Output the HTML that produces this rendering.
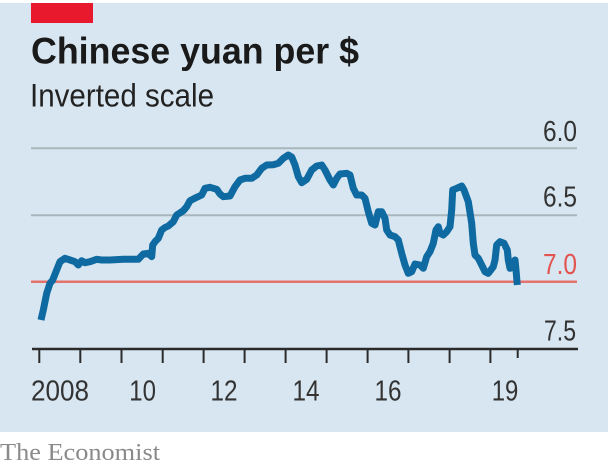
<!DOCTYPE html>
<html>
<head>
<meta charset="utf-8">
<style>
  html, body { margin: 0; padding: 0; background: #ffffff; }
  svg { display: block; }
</style>
</head>
<body>
<svg width="608" height="468" viewBox="0 0 608 468" xmlns="http://www.w3.org/2000/svg">
  <!-- background -->
  <rect x="0" y="0" width="608" height="468" fill="#ffffff"/>
  <rect x="0" y="3" width="608" height="429" fill="#d7e6f0"/>
  <!-- red tag -->
  <rect x="31" y="3" width="62" height="20" fill="#e8192c"/>

  <!-- title -->
  <text x="31" y="63.5" font-family="Liberation Sans, Arial, sans-serif" font-weight="bold" font-size="37" fill="#1a1a1a" textLength="328" lengthAdjust="spacingAndGlyphs">Chinese yuan per $</text>
  <text x="30" y="106.7" font-family="Liberation Sans, Arial, sans-serif" font-size="32" fill="#222222" textLength="184" lengthAdjust="spacingAndGlyphs">Inverted scale</text>

  <!-- gridlines -->
  <line x1="31" y1="148.3" x2="577" y2="148.3" stroke="#a9b6be" stroke-width="2"/>
  <line x1="31" y1="215.3" x2="577" y2="215.3" stroke="#a9b6be" stroke-width="2"/>
  <line x1="31" y1="281.7" x2="577" y2="281.7" stroke="#e4726d" stroke-width="2.5"/>

  <!-- y labels -->
  <g font-family="Liberation Sans, Arial, sans-serif" font-size="29" text-anchor="end">
    <text x="577" y="141" fill="#333333" textLength="34" lengthAdjust="spacingAndGlyphs">6.0</text>
    <text x="577" y="206.7" fill="#333333" textLength="34" lengthAdjust="spacingAndGlyphs">6.5</text>
    <text x="577" y="274" fill="#e3534f" textLength="34" lengthAdjust="spacingAndGlyphs">7.0</text>
    <text x="576" y="340.7" fill="#333333" textLength="32" lengthAdjust="spacingAndGlyphs">7.5</text>
  </g>

  <!-- axis -->
  <line x1="32" y1="349" x2="578" y2="349" stroke="#2b2b2b" stroke-width="2.5"/>
  <g stroke="#2b2b2b" stroke-width="2">
    <line x1="39.3" y1="349" x2="39.3" y2="363"/>
    <line x1="80.3" y1="349" x2="80.3" y2="363"/>
    <line x1="121.5" y1="349" x2="121.5" y2="363"/>
    <line x1="162.7" y1="349" x2="162.7" y2="363"/>
    <line x1="203.6" y1="349" x2="203.6" y2="363"/>
    <line x1="244.6" y1="349" x2="244.6" y2="363"/>
    <line x1="285.6" y1="349" x2="285.6" y2="363"/>
    <line x1="326.6" y1="349" x2="326.6" y2="363"/>
    <line x1="367.6" y1="349" x2="367.6" y2="363"/>
    <line x1="408.4" y1="349" x2="408.4" y2="363"/>
    <line x1="449.6" y1="349" x2="449.6" y2="363"/>
    <line x1="490.4" y1="349" x2="490.4" y2="363"/>
    <line x1="517.7" y1="349" x2="517.7" y2="358"/>
  </g>

  <!-- x labels -->
  <g font-family="Liberation Sans, Arial, sans-serif" font-size="29" fill="#333333">
    <text x="31" y="400.7" textLength="58" lengthAdjust="spacingAndGlyphs">2008</text>
    <text x="129.3" y="400.7" textLength="26.7" lengthAdjust="spacingAndGlyphs">10</text>
    <text x="210.5" y="400.7" textLength="27" lengthAdjust="spacingAndGlyphs">12</text>
    <text x="292.5" y="400.7" textLength="27" lengthAdjust="spacingAndGlyphs">14</text>
    <text x="374.5" y="400.7" textLength="27" lengthAdjust="spacingAndGlyphs">16</text>
    <text x="491.7" y="400.7" textLength="26.6" lengthAdjust="spacingAndGlyphs">19</text>
  </g>

  <!-- data line -->
  <polyline fill="none" stroke="#0e6aa1" stroke-width="7" stroke-linejoin="round" stroke-linecap="butt"
    points="41,320 43.3,310 46.7,293.3 50,283.3 52.7,280 56,271.7 60,261.7 65,258.3 70,260 75,261.7 78.3,265 81.7,260.7 85,262.7 90,261.7 96.7,259.3 101.7,260 110,260 123.3,259.3 138.3,259.3 143.3,254 148.3,253.3 151.7,256.7 152.7,245 155,241.7 158.3,238.3 161.7,230 165,227.5 168.3,226 173.3,221.7 176.7,215 183.3,210.7 186.7,206.7 190,200.7 196.7,197.3 201.7,195 205,188.3 210,187.3 216.7,189.3 220,194 223.3,196.7 230,196 235,186.7 240,180 245,178.3 251.7,178.3 256.7,175 261.7,168.3 266.7,165 273.3,164.7 278.3,163.3 283.3,158.3 288.3,155 291.7,157 295,165 298.3,176.7 301.7,182.7 306.7,179.3 311.7,170 316.7,166 321.7,165 325,170 330,180 333.3,185 336.7,178.3 340,174 346.7,173.3 350,175 353.3,188.3 356.7,195 361.7,195 365,198.3 368.3,211.7 371.7,223.3 375,225 378.3,211.7 381.7,211.7 385,218.3 386.7,230 390,235 395,236.7 398.3,240 401.7,253.3 405,265 408.3,273.3 411.7,271.7 415,264 420,265 423.3,268.3 426.7,256.7 430,251.7 433.3,243.3 436,230 438.3,226.7 440,233.3 443.3,235 446.7,231.7 450,226.7 451.7,210 452.7,190 456.7,188.3 461.7,186 464,190 468.3,201.7 471.7,223.3 473.3,243.3 475,255 478.3,258.3 481.7,265 485,271.7 488.3,273.3 493.3,266.7 495,260 496.7,245 500,241.7 504,243.3 507.3,250 508.3,260 510,268.3 513.3,266.7 515,260 516,270 517.3,285"/>

  <!-- footer -->
  <text x="0" y="460" font-family="Liberation Serif, Times New Roman, serif" font-size="24" fill="#8a8a8a" textLength="160" lengthAdjust="spacingAndGlyphs">The Economist</text>
</svg>
</body>
</html>
